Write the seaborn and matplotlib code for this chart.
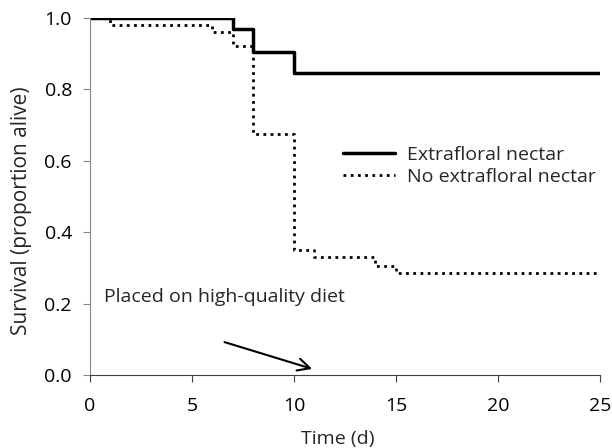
import pandas as pd
import matplotlib
matplotlib.use('Agg')
import matplotlib.pyplot as plt
import seaborn as sns

# Survival step data
efn_days = [0, 7, 8, 10, 25]
efn_surv = [1.0, 0.97, 0.905, 0.845, 0.845]

no_efn_days = [0, 1, 6, 7, 8, 10, 11, 14, 15, 25]
no_efn_surv = [1.0, 0.98, 0.96, 0.92, 0.675, 0.35, 0.33, 0.305, 0.285, 0.285]

x_ticks = [0, 5, 10, 15, 20, 25]
y_ticks = [0.0, 0.2, 0.4, 0.6, 0.8, 1.0]

sns.set_style('ticks')
plt.rcParams['font.family'] = ['Open Sans', 'DejaVu Sans']

fig, ax = plt.subplots(figsize=(6.12, 4.48), dpi=100)
fig.subplots_adjust(left=0.147, right=0.980, top=0.960, bottom=0.163)

df_efn = pd.DataFrame({'day': efn_days, 'surv': efn_surv})
df_no = pd.DataFrame({'day': no_efn_days, 'surv': no_efn_surv})

sns.lineplot(data=df_efn, x='day', y='surv', ax=ax, color='black', lw=2.5,
             drawstyle='steps-post', label='Extrafloral nectar')
sns.lineplot(data=df_no, x='day', y='surv', ax=ax, color='black', lw=2,
             linestyle=(0, (1, 1.6)), drawstyle='steps-post',
             label='No extrafloral nectar')

ax.set_xlim(0, 25)
ax.set_ylim(0, 1.0)
ax.set_xticks(x_ticks)
ax.set_yticks(y_ticks)
ax.set_xticklabels([str(t) for t in x_ticks])
ax.set_yticklabels([f'{t:.1f}' for t in y_ticks])
ax.tick_params(labelsize=14, length=5, direction='out', labelcolor='black')
ax.tick_params(axis='x', pad=11, colors='#404040', labelcolor='black')
ax.tick_params(axis='y', pad=8, colors='#868686', labelcolor='black')
ax.set_xlabel('Time (d)', fontsize=14)
ax.set_ylabel('Survival (proportion alive)', fontsize=15)
ax.xaxis.set_label_coords(0.486, -0.155)
ax.yaxis.set_label_coords(-0.113, 0.46)

for s in ['top', 'right']:
    ax.spines[s].set_visible(False)
ax.spines['left'].set_color('#868686')
ax.spines['bottom'].set_color('#404040')

ax.legend(loc='center left', bbox_to_anchor=(0.496, 0.585), frameon=False,
          fontsize=14, handlelength=2.7, handletextpad=0.6, labelspacing=0.2,
          borderpad=0, borderaxespad=0)

ax.text(6.6, 0.218, 'Placed on high-quality diet', fontsize=14,
        ha='center', va='center')
ax.annotate('', xy=(10.9, 0.017), xytext=(6.6, 0.092),
            arrowprops=dict(arrowstyle='->', color='black', lw=1.5,
                            mutation_scale=22, shrinkA=0, shrinkB=0))

fig.savefig('out.png', dpi=100)
